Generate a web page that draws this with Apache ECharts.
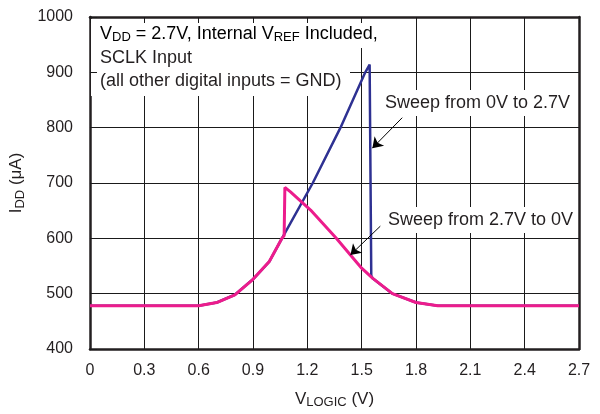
<!DOCTYPE html>
<html>
<head>
<meta charset="utf-8">
<script src="https://cdn.jsdelivr.net/npm/echarts@6/dist/echarts.min.js"></script>
<style>
  html, body { margin: 0; padding: 0; background: #fff; }
  #chart { width: 600px; height: 414px; }
</style>
</head>
<body>
<div id="chart"></div>
<script>
// sweep 0V -> 2.7V (blue)
var upX = [0, 0.6, 0.7, 0.8, 0.9, 0.99, 1.06, 1.23, 1.383, 1.52, 1.544, 1.55, 1.553, 1.56, 1.67, 1.8, 1.92, 2.7];
var upY = [478, 478, 484, 498, 526, 558, 600, 700, 800, 900, 914, 912, 533, 528, 500, 484, 478, 478];
// sweep 2.7V -> 0V (pink)
var downX = [0, 0.6, 0.7, 0.8, 0.9, 0.99, 1.06, 1.072, 1.076, 1.107, 1.218, 1.36, 1.438, 1.5, 1.56, 1.67, 1.8, 1.92, 2.7];
var downY = [478, 478, 484, 498, 526, 558, 600, 605, 692, 684, 651, 600, 570, 546, 528, 500, 484, 478, 478];
var xTicks = [0, 0.3, 0.6, 0.9, 1.2, 1.5, 1.8, 2.1, 2.4, 2.7];
var yTicks = [400, 500, 600, 700, 800, 900, 1000];
// arrows for the annotations (data coords: tail, head)
var arrowUp = [[1.724, 818], [1.559, 763]];
var arrowDown = [[1.603, 622], [1.438, 570]];

var FONT = "'Liberation Sans', Arial, Helvetica, sans-serif";
var INK = '#231f20';

function pairs(xs, ys) {
  var out = [];
  for (var i = 0; i < xs.length; i++) out.push([xs[i], ys[i]]);
  return out;
}

var chart = echarts.init(document.getElementById('chart'), null, { renderer: 'canvas' });

var xBase = { type: 'value', min: xTicks[0], max: xTicks[xTicks.length - 1], interval: 0.3 };
var yBase = { type: 'value', min: yTicks[0], max: yTicks[yTicks.length - 1], interval: 100 };
var subRich = {
  a: { fontSize: 17, fontFamily: FONT, color: INK, lineHeight: 20 },
  s: { fontSize: 13, fontFamily: FONT, color: INK, lineHeight: 10, verticalAlign: 'bottom' }
};
var boxRich = {
  a: { fontSize: 18, fontFamily: FONT, color: INK, lineHeight: 20 },
  s: { fontSize: 13, fontFamily: FONT, color: INK, lineHeight: 10, verticalAlign: 'bottom' }
};

var option = {
  backgroundColor: '#fff',
  animation: false,
  grid: { left: 89, right: 21, top: 17, bottom: 65 },
  xAxis: [
    Object.assign({}, xBase, {
      position: 'bottom',
      z: 0,
      name: '{a|V}{s|LOGIC}{a| (V)}',
      nameLocation: 'middle',
      nameGap: 40,
      nameTextStyle: { rich: subRich },
      axisLine: { show: true, lineStyle: { color: INK, width: 2.5 } },
      axisTick: { show: false },
      axisLabel: {
        margin: 14, color: INK, fontSize: 16, fontFamily: FONT,
        formatter: function (v) { return v === 0 ? '0' : v.toFixed(1); }
      },
      splitLine: { show: true, lineStyle: { color: '#1a1a1a', width: 1 } }
    }),
    Object.assign({}, xBase, {
      position: 'top',
      z: 3,
      axisLine: { show: true, lineStyle: { color: INK, width: 2.5 } },
      axisTick: { show: true, inside: true, length: 6, lineStyle: { color: '#1a1a1a', width: 1 } },
      axisLabel: { show: false },
      splitLine: { show: false }
    })
  ],
  yAxis: [
    Object.assign({}, yBase, {
      position: 'left',
      z: 0,
      name: '{a|I}{s|DD}{a| (μA)}',
      nameLocation: 'middle',
      nameRotate: 90,
      nameGap: 57,
      nameTextStyle: { rich: subRich },
      axisLine: { show: true, lineStyle: { color: INK, width: 2.5 } },
      axisTick: { show: false },
      axisLabel: {
        margin: 17, color: INK, fontSize: 16, fontFamily: FONT,
        formatter: function (v) { return String(v); }
      },
      splitLine: { show: true, lineStyle: { color: '#1a1a1a', width: 1 } }
    }),
    Object.assign({}, yBase, {
      position: 'left',
      offset: 0,
      z: 3,
      axisLine: { show: false },
      axisTick: { show: true, inside: true, length: 7, lineStyle: { color: '#1a1a1a', width: 1 } },
      axisLabel: { show: false },
      splitLine: { show: false }
    }),
    Object.assign({}, yBase, {
      position: 'right',
      offset: 0,
      z: 3,
      axisLine: { show: true, lineStyle: { color: INK, width: 2.5 } },
      axisTick: { show: false },
      axisLabel: { show: false },
      splitLine: { show: false }
    })
  ],
  graphic: [
    { type: 'rect', z: 1, silent: true, shape: { x: 91, y: 19, width: 259, height: 77 }, style: { fill: '#fff' } },
    { type: 'rect', z: 1, silent: true, shape: { x: 349, y: 19, width: 41, height: 29 }, style: { fill: '#fff' } },
    {
      type: 'text', z: 5, silent: true, x: 100, y: 34,
      style: {
        text: '{a|V}{s|DD}{a| = 2.7V, Internal V}{s|REF}{a| Included,}',
        rich: boxRich, verticalAlign: 'middle', align: 'left'
      }
    },
    {
      type: 'text', z: 5, silent: true, x: 100, y: 58,
      style: { text: 'SCLK Input', font: '18px ' + FONT, fill: INK, verticalAlign: 'middle' }
    },
    {
      type: 'text', z: 5, silent: true, x: 100, y: 81,
      style: { text: '(all other digital inputs = GND)', font: '18px ' + FONT, fill: INK, verticalAlign: 'middle' }
    },
    {
      type: 'text', z: 5, silent: true, x: 382, y: 103,
      style: {
        text: 'Sweep from 0V to 2.7V', font: '18px ' + FONT, fill: INK, verticalAlign: 'middle',
        backgroundColor: '#fff', padding: [4, 3, 4, 3]
      }
    },
    {
      type: 'text', z: 5, silent: true, x: 385, y: 220,
      style: {
        text: 'Sweep from 2.7V to 0V', font: '18px ' + FONT, fill: INK, verticalAlign: 'middle',
        backgroundColor: '#fff', padding: [4, 3, 4, 3]
      }
    }
  ],
  series: [
    {
      name: 'Sweep from 0V to 2.7V',
      type: 'line',
      data: pairs(upX, upY),
      showSymbol: false,
      lineStyle: { color: '#2e3192', width: 2.5 },
      z: 2
    },
    {
      name: 'Sweep from 2.7V to 0V',
      type: 'line',
      data: pairs(downX, downY),
      showSymbol: false,
      lineStyle: { color: '#ec1c8c', width: 3 },
      z: 3
    },
    {
      name: 'arrows',
      type: 'line',
      data: [],
      z: 4,
      markLine: {
        silent: true,
        symbol: ['none', 'arrow'],
        symbolSize: 10,
        label: { show: false },
        lineStyle: { color: '#000', width: 1, type: 'solid' },
        data: [
          [{ coord: arrowUp[0] }, { coord: arrowUp[1] }],
          [{ coord: arrowDown[0] }, { coord: arrowDown[1] }]
        ]
      }
    }
  ]
};

chart.setOption(option);
</script>
</body>
</html>
